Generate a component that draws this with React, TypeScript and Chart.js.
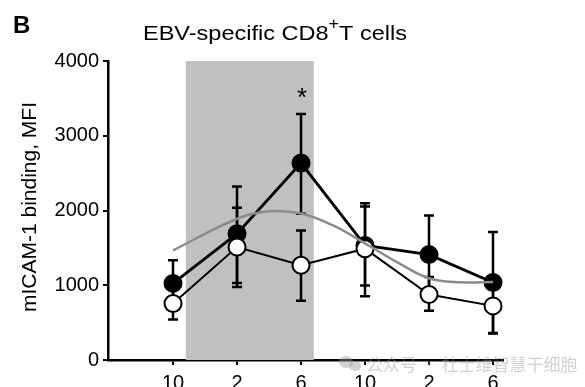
import React, { useEffect, useRef } from 'react';
import { Chart, registerables } from 'chart.js';

Chart.register(...registerables);

const tickLabels = ['10', '2', '6', '10', '2', '6'];
const positions = [0, 1, 2, 3, 4, 5];
const filledMean = [1025, 1690, 2635, 1533, 1410, 1036];
const filledUpper = [1335, 2320, 3290, 2098, 1933, 1711];
const filledLower = [715, 1031, 1956, 996, 885, 360];
const openMean = [756, 1511, 1267, 1489, 876, 724];
const openUpper = [960, 2036, 1733, 2053, 1111, 1092];
const openLower = [542, 978, 791, 853, 658, 356];
const trendX = [0, 1, 1.5, 2, 2.5, 3, 3.5, 4, 4.5, 5];
const trendY = [1467, 1890, 1990, 1960, 1800, 1560, 1310, 1093, 1040, 1045];
const shadeRange = [0.2, 2.2];
const yTicks = [0, 1000, 2000, 3000, 4000];
const starIndex = 2;

const FONT = '"Liberation Sans", Arial, sans-serif';

const decorPlugin = {
  id: 'decor',
  beforeDatasetsDraw(chart: any) {
    const { ctx, scales } = chart;
    const x = scales.x;
    const y = scales.y;
    ctx.save();
    const x0 = x.getPixelForValue(shadeRange[0]);
    const x1 = x.getPixelForValue(shadeRange[1]);
    const yTop = y.getPixelForValue(4000);
    const yBot = y.getPixelForValue(0);
    ctx.fillStyle = '#c0c0c0';
    ctx.fillRect(x0, yTop, x1 - x0, yBot - yTop);
    ctx.strokeStyle = '#000';
    ctx.lineWidth = 2.5;
    const cap = 5;
    const drawBar = (i: number, lo: number, hi: number) => {
      const px = x.getPixelForValue(positions[i]);
      const pl = y.getPixelForValue(lo);
      const ph = y.getPixelForValue(hi);
      ctx.beginPath();
      ctx.moveTo(px, pl);
      ctx.lineTo(px, ph);
      ctx.moveTo(px - cap, pl);
      ctx.lineTo(px + cap, pl);
      ctx.moveTo(px - cap, ph);
      ctx.lineTo(px + cap, ph);
      ctx.stroke();
    };
    positions.forEach((_, i) => {
      drawBar(i, filledLower[i], filledUpper[i]);
      drawBar(i, openLower[i], openUpper[i]);
    });
    ctx.restore();
  },
  afterDraw(chart: any) {
    const { ctx, scales } = chart;
    const x = scales.x;
    ctx.save();
    ctx.fillStyle = '#000';
    ctx.font = `bold 24px ${FONT}`;
    ctx.textAlign = 'left';
    ctx.textBaseline = 'alphabetic';
    ctx.fillText('B', 13, 33);
    ctx.font = `21px ${FONT}`;
    const p1 = 'EBV-specific CD8';
    const p2 = '+';
    const p3 = 'T cells';
    const w1 = ctx.measureText(p1).width;
    const w3 = ctx.measureText(p3).width;
    ctx.font = `16px ${FONT}`;
    const w2 = ctx.measureText(p2).width;
    const total = w1 + w2 + w3;
    const sx = 264 / total;
    ctx.translate(143, 40);
    ctx.scale(sx, 1);
    ctx.font = `21px ${FONT}`;
    ctx.fillText(p1, 0, 0);
    ctx.font = `16px ${FONT}`;
    ctx.fillText(p2, w1, -11);
    ctx.font = `21px ${FONT}`;
    ctx.fillText(p3, w1 + w2, 0);
    ctx.setTransform(1, 0, 0, 1, 0, 0);
    ctx.save();
    ctx.translate(30, 207);
    ctx.rotate(-Math.PI / 2);
    ctx.font = `21px ${FONT}`;
    ctx.textAlign = 'center';
    ctx.textBaseline = 'middle';
    ctx.fillText('mICAM-1 binding, MFI', 0, 0);
    ctx.restore();
    ctx.font = `26px ${FONT}`;
    ctx.textAlign = 'center';
    ctx.textBaseline = 'alphabetic';
    ctx.fillText('*', x.getPixelForValue(positions[starIndex]) + 1, 106);
    ctx.globalAlpha = 0.45;
    ctx.fillStyle = '#9a9a9a';
    ctx.beginPath();
    ctx.ellipse(346, 362, 7, 6, 0, 0, Math.PI * 2);
    ctx.fill();
    ctx.beginPath();
    ctx.ellipse(355, 366, 6, 5, 0, 0, Math.PI * 2);
    ctx.fill();
    ctx.font = `17px "Noto Sans CJK SC", sans-serif`;
    ctx.textAlign = 'left';
    ctx.fillText('公众号 · 杜士维智慧干细胞', 366, 371);
    ctx.restore();
  },
};

export default function App() {
  const ref = useRef<HTMLCanvasElement | null>(null);
  useEffect(() => {
    if (!ref.current) return;
    const chart = new Chart(ref.current, {
      type: 'line',
      data: {
        datasets: [
          {
            label: 'trend',
            data: trendX.map((v, i) => ({ x: v, y: trendY[i] })),
            borderColor: '#8c8c8c',
            borderWidth: 2.5,
            pointRadius: 0,
            tension: 0.4,
            order: 0,
          } as any,
          {
            label: 'open',
            data: positions.map((v, i) => ({ x: v, y: openMean[i] })),
            borderColor: '#000',
            borderWidth: 2,
            pointRadius: 8.5,
            pointBackgroundColor: '#fff',
            pointBorderColor: '#000',
            pointBorderWidth: 2,
            tension: 0,
            order: 1,
          },
          {
            label: 'filled',
            data: positions.map((v, i) => ({ x: v, y: filledMean[i] })),
            borderColor: '#000',
            borderWidth: 2.8,
            pointRadius: 8.5,
            pointBackgroundColor: '#000',
            pointBorderColor: '#000',
            pointBorderWidth: 2,
            tension: 0,
            order: 2,
          },
        ],
      },
      options: {
        animation: false,
        responsive: false,
        devicePixelRatio: 1,
        layout: { padding: { top: 61, right: 82, left: 0, bottom: 0 } },
        plugins: {
          legend: { display: false },
          tooltip: { enabled: false },
          title: { display: false },
        },
        scales: {
          x: {
            type: 'linear',
            min: -1.016,
            max: 5.156,
            afterBuildTicks: (axis: any) => {
              axis.ticks = positions.map((v) => ({ value: v }));
            },
            afterFit: (axis: any) => {
              axis.height = 27;
            },
            ticks: {
              autoSkip: false,
              maxRotation: 0,
              color: '#000',
              font: { family: FONT, size: 20 },
              padding: 6,
              callback: (v: any) => tickLabels[Math.round(Number(v))] ?? '',
            },
            grid: {
              drawOnChartArea: false,
              drawTicks: true,
              tickLength: 5,
              color: '#000',
              lineWidth: 2,
            },
            border: { display: true, color: '#000', width: 2.5 },
          },
          y: {
            min: 0,
            max: 4000,
            afterBuildTicks: (axis: any) => {
              axis.ticks = yTicks.map((v) => ({ value: v }));
            },
            afterFit: (axis: any) => {
              axis.width = 108;
            },
            ticks: {
              color: '#000',
              font: { family: FONT, size: 20 },
              padding: 4,
              callback: (v: any) => String(v),
            },
            grid: {
              drawOnChartArea: false,
              drawTicks: true,
              tickLength: 5,
              color: '#000',
              lineWidth: 2,
            },
            border: { display: true, color: '#000', width: 2.5 },
          },
        },
      },
      plugins: [decorPlugin],
    });
    return () => chart.destroy();
  }, []);
  return (
    <div style={{ position: 'absolute', left: 0, top: 0, width: 585, height: 387, background: '#fff' }}>
      <canvas ref={ref} width={585} height={387} />
    </div>
  );
}
